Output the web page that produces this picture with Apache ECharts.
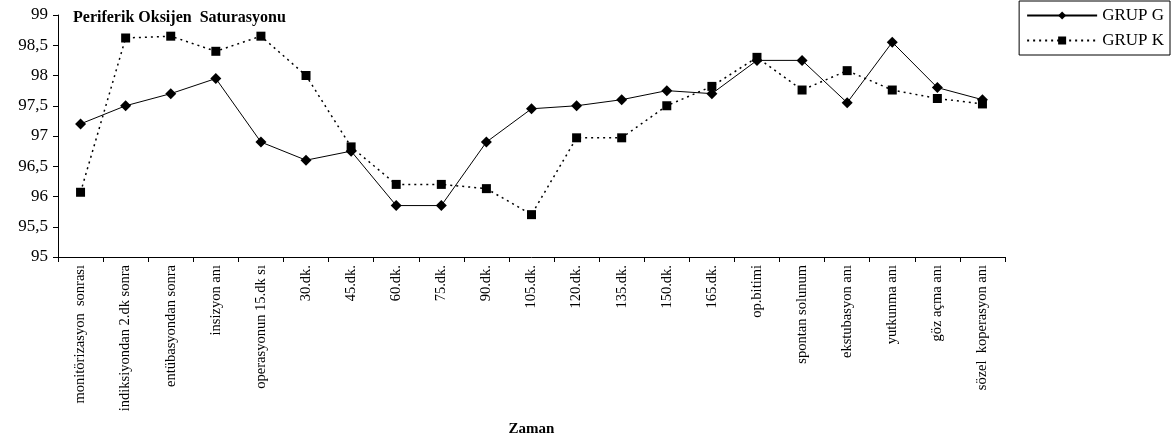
<!DOCTYPE html>
<html><head><meta charset="utf-8">
<script src="https://cdn.jsdelivr.net/npm/echarts@6/dist/echarts.min.js"></script>
<style>html,body{margin:0;padding:0;background:#fff}#c{width:1172px;height:443px}</style>
</head><body><div id="c"></div>
<script>
const categories = ["monitörizasyon  sonrası","indiksiyondan 2.dk sonra","entübasyondan sonra","insizyon anı","operasyonun 15.dk sı","30.dk.","45.dk.","60.dk.","75.dk.","90.dk.","105.dk.","120.dk.","135.dk.","150.dk.","165.dk.","op.bitimi","spontan solunum","ekstubasyon anı","yutkunma anı","göz açma anı","sözel  koperasyon anı"];
const grupG = [97.2,97.5,97.7,97.95,96.9,96.6,96.75,95.85,95.85,96.9,97.45,97.5,97.6,97.75,97.7,98.25,98.25,97.55,98.55,97.8,97.6];
const grupK = [96.07,98.62,98.65,98.4,98.65,98.0,96.82,96.2,96.2,96.13,95.7,96.97,96.97,97.5,97.82,98.3,97.76,98.08,97.76,97.62,97.53];
const font = "Liberation Serif";
const chart = echarts.init(document.getElementById('c'));
chart.setOption({
  animation:false,
  title:{text:'Periferik Oksijen  Saturasyonu',left:68,top:5,textStyle:{fontFamily:font,fontWeight:'bold',fontSize:16,color:'#000'}},
  legend:{right:2,top:1,orient:'vertical',itemWidth:70,itemHeight:10,itemGap:8,padding:[6,6,6,7],
    borderColor:'#000',borderWidth:1,textStyle:{fontFamily:font,fontSize:17,color:'#000'},
    data:['GRUP G','GRUP K']},
  grid:{left:58,right:167,top:15,bottom:186},
  xAxis:{type:'category',data:categories,boundaryGap:true,
    name:'Zaman',nameLocation:'middle',nameGap:165,nameTextStyle:{fontFamily:font,fontWeight:'bold',fontSize:15,color:'#000'},
    axisLine:{lineStyle:{color:'#000',width:1}},axisTick:{show:true,length:5,lineStyle:{color:'#000'}},
    axisLabel:{rotate:90,interval:0,fontFamily:font,fontSize:14.5,color:'#000',margin:8},splitLine:{show:false}},
  yAxis:{type:'value',min:95,max:99,interval:0.5,
    axisLine:{show:true,lineStyle:{color:'#000'}},axisTick:{show:true,length:5,lineStyle:{color:'#000'}},
    axisLabel:{fontFamily:font,fontSize:17,color:'#000',margin:10,formatter:v=>String(v).replace('.',',')},
    splitLine:{show:false}},
  series:[
    {name:'GRUP G',type:'line',data:grupG,symbol:'diamond',symbolSize:11,
     lineStyle:{color:'#000',width:1},itemStyle:{color:'#000'}},
    {name:'GRUP K',type:'line',data:grupK,symbol:'rect',symbolSize:9,
     lineStyle:{color:'#000',width:1.5,type:[2,4]},itemStyle:{color:'#000'}}
  ]
});
</script></body></html>
